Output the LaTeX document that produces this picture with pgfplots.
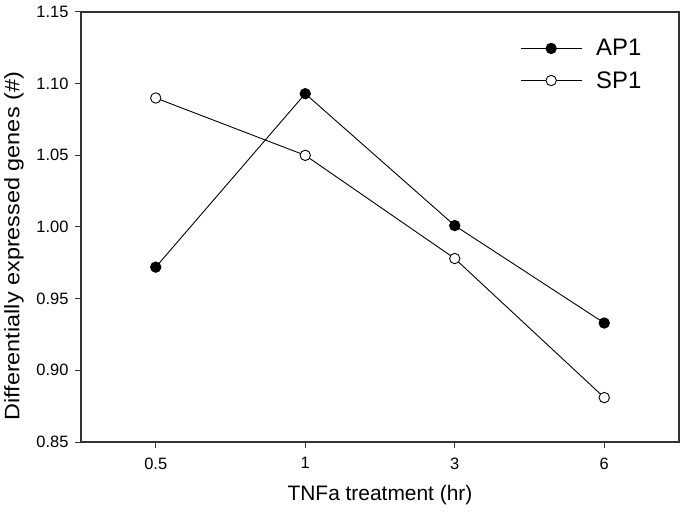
\documentclass[border=0pt]{standalone}
\usepackage{pgfplots}
\pgfplotsset{compat=1.18}
\usepackage{fontspec}
\setmainfont{Liberation Sans}
\begin{document}
\begin{tikzpicture}
\begin{axis}[
  scale only axis,
  width=598bp, height=430bp,
  xmin=-0.5, xmax=3.5,
  ymin=0.85, ymax=1.15,
  xtick={0,1,2,3},
  xticklabels={0.5,1,3,6},
  ytick={0.85,0.90,...,1.15},
  /pgf/number format/fixed,
  /pgf/number format/fixed zerofill,
  /pgf/number format/precision=2,
  /pgf/number format/assume math mode=true,
  tick align=outside,
  major tick length=6bp,
  xtick pos=bottom, ytick pos=left,
  axis line style={black!80, line width=1.2bp},
  tick style={black!80, line width=1bp},
  tick label style={font=\fontsize{16.5}{19}\selectfont},
  xticklabel style={yshift=-6bp},
  yticklabel style={xshift=-3bp},
  xlabel={TNFa treatment (hr)},
  ylabel={Differentially expressed genes (\#)},
  xlabel style={font=\fontsize{21}{24}\selectfont, yshift=-9bp},
  ylabel style={font=\fontsize{21}{24}\selectfont, at={(ticklabel cs:0.455)}, xscale=1.12, yshift=6bp},
  legend style={draw=none, fill=none, at={(0.735,0.94)}, anchor=north west,
    font=\fontsize{24}{27}\selectfont, row sep=11bp, column sep=12bp, inner sep=0pt,
    nodes={inner sep=1.5bp}},
  legend cell align=left,
  legend image code/.code={
    \draw[#1, mark=none] (0bp,0bp) -- (61bp,0bp);
    \draw[#1, only marks] plot coordinates {(30bp,0bp)};
  },
]
\addplot[black, line width=0.9bp, mark=*, mark size=5.2bp, mark options={fill=black}]
  coordinates {(0,0.972) (1,1.093) (2,1.001) (3,0.933)};
\addlegendentry{AP1}
\addplot[black, line width=0.9bp, mark=*, mark size=5.2bp, mark options={fill=white}]
  coordinates {(0,1.090) (1,1.050) (2,0.978) (3,0.881)};
\addlegendentry{SP1}
\end{axis}
\pgfresetboundingbox
\path (current axis.south west) ++(-81bp,-73bp) coordinate (bbA);
\path (current axis.north east) ++(4bp,12bp) coordinate (bbB);
\path (bbA) rectangle (bbB);
\end{tikzpicture}
\end{document}
